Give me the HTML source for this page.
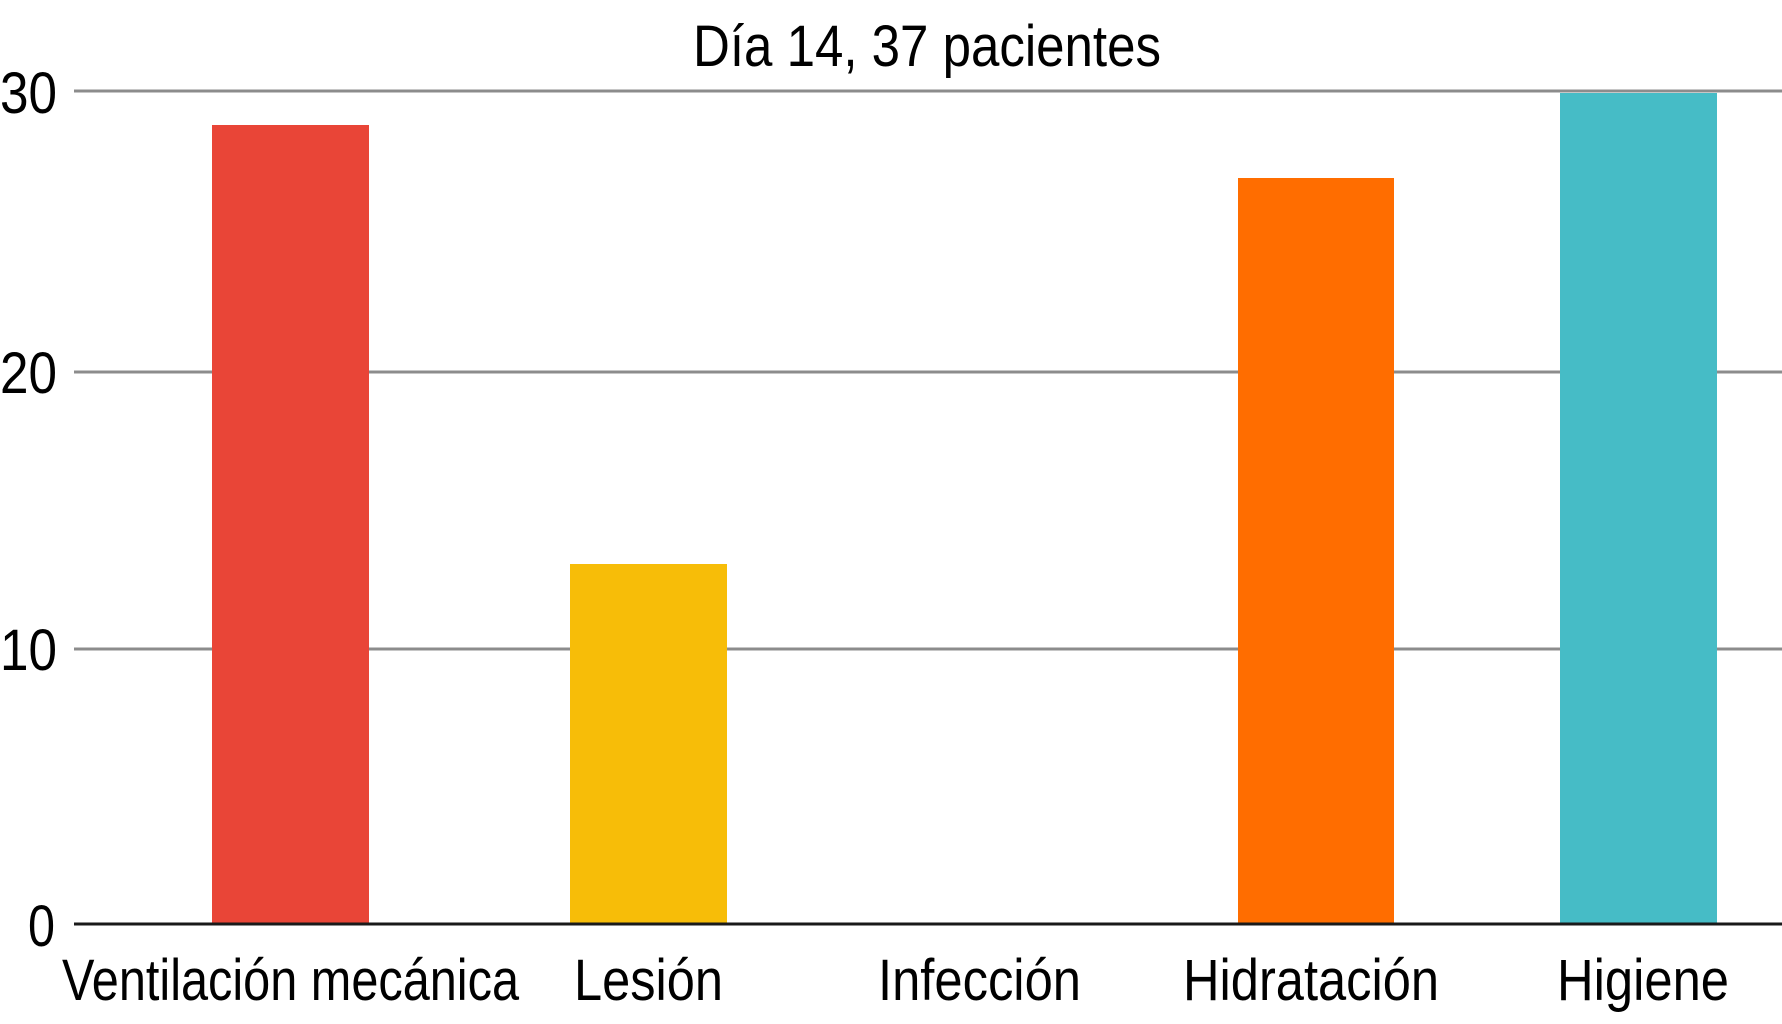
<!DOCTYPE html>
<html><head><meta charset="utf-8"><style>html,body{margin:0;padding:0;background:#fff}svg{display:block}</style></head>
<body>
<svg width="1782" height="1024" viewBox="0 0 1782 1024" xmlns="http://www.w3.org/2000/svg" font-family="Liberation Sans, sans-serif" fill="#000">
<g stroke="#8c8c8c" stroke-width="3">
<line x1="74" y1="91" x2="1782" y2="91"/>
<line x1="74" y1="372" x2="1782" y2="372"/>
<line x1="74" y1="649" x2="1782" y2="649"/>
</g>
<rect x="212" y="125" width="157" height="799" fill="#e94537"/>
<rect x="570" y="564" width="157" height="360" fill="#f7bd08"/>
<rect x="1238" y="178" width="156" height="746" fill="#ff6d00"/>
<rect x="1560" y="93" width="157" height="831" fill="#46bcc6"/>
<line x1="74" y1="924" x2="1782" y2="924" stroke="#1a1a1a" stroke-width="3"/>
<g font-size="58">
<text x="0" y="113" textLength="57" lengthAdjust="spacingAndGlyphs">30</text>
<text x="0" y="393" textLength="57" lengthAdjust="spacingAndGlyphs">20</text>
<text x="0" y="670" textLength="57" lengthAdjust="spacingAndGlyphs">10</text>
<text x="28" y="946" textLength="27" lengthAdjust="spacingAndGlyphs">0</text>
<text x="62" y="1000" textLength="457" lengthAdjust="spacingAndGlyphs">Ventilación mecánica</text>
<text x="574" y="1000" textLength="149" lengthAdjust="spacingAndGlyphs">Lesión</text>
<text x="878" y="1000" textLength="203" lengthAdjust="spacingAndGlyphs">Infección</text>
<text x="1183" y="1000" textLength="256" lengthAdjust="spacingAndGlyphs">Hidratación</text>
<text x="1557" y="1000" textLength="172" lengthAdjust="spacingAndGlyphs">Higiene</text>
<text x="693" y="66" textLength="468" lengthAdjust="spacingAndGlyphs">Día 14, 37 pacientes</text>
</g>
</svg>
</body></html>
